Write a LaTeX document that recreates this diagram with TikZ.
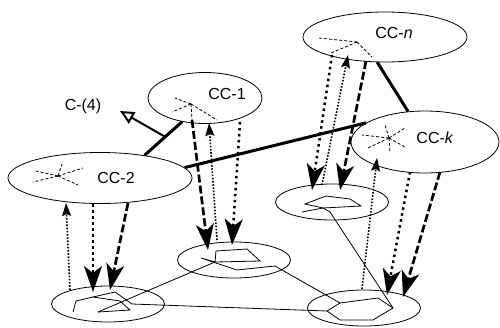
\documentclass[tikz,border=0pt]{standalone}
\usepackage{fontspec}
\setmainfont{Liberation Sans}
\usetikzlibrary{shapes.geometric,arrows.meta,calc}

\begin{document}
\begin{tikzpicture}[x=1pt, y=-1pt]

\tikzset{
  cc/.style={ellipse, draw, line width=0.8pt, inner sep=0pt},
  pc/.style={ellipse, draw, line width=0.8pt, inner sep=0pt, minimum width=113pt, minimum height=36pt},
  lbl/.style={font=\fontsize{16}{19}\selectfont, inner sep=0pt},
  link/.style={line width=3pt},
  ray/.style={line width=0.8pt, dash pattern=on 3pt off 2pt},
  poly/.style={line width=0.8pt},
  bigtip/.style={-{Stealth[length=26pt, width=18pt, inset=7pt]}},
  cdash/.style={bigtip, line width=2.7pt, dash pattern=on 8pt off 3pt},
  cdot/.style={bigtip, line width=2.5pt, dash pattern=on 2.5pt off 3.5pt},
  bdot/.style={-{Stealth[length=13pt, width=9pt, inset=2pt]}, line width=1.6pt, dash pattern=on 1.6pt off 1.6pt},
}

\useasboundingbox (0,0) rectangle (500,327);

% upper ellipses
\node[cc, minimum width=114pt, minimum height=51pt, name=cc1] at (205,98) {};
\node[cc, minimum width=184pt, minimum height=51pt, name=cc2] at (100,178) {};
\node[cc, minimum width=164pt, minimum height=50pt, name=ccn] at (385,37) {};
\node[cc, minimum width=148pt, minimum height=62pt, name=cck] at (425,142) {};
\node[lbl, name=lcc1] at (227,94) {CC-1};
\node[lbl, name=lcc2] at (116,178) {CC-2};
\node[lbl, name=lccn] at (394,33) {CC-\textit{n}};
\node[lbl, name=lcck] at (435,138) {CC-\textit{k}};

% lower ellipses
\node[pc, name=b2] at (108,304) {};
\node[pc, name=b1] at (234,260) {};
\node[pc, name=bn] at (332,202) {};
\node[pc, name=bk] at (364,308) {};

% links between clusters
\draw[link] (cc1.226) -- (cc2.27);
\draw[link] (cc2.7) -- (cck.162);
\draw[link] (ccn.253) -- (cck.119);

\node[lbl, name=c4] at (83,106) {C-(4)};
\coordinate (c4tip) at (120,111);
\draw[line width=2pt, -{Triangle[open, length=14pt, width=13pt]}] ($(cc1.226)!0.45!(cc2.27)$) -- (c4tip);

% stars
\coordinate (s1) at (191,104);
\coordinate (s2) at (58,176);
\coordinate (sn) at (357,42);
\coordinate (sk) at (389,138);
\foreach \p in {(175,98),(172,112),(217,120),(192,120)} \draw[ray] (s1) -- \p;
\foreach \p in {(36,171),(78,185),(33,182),(83,168),(62,164)} \draw[ray] (s2) -- \p;
\foreach \p in {(319,38),(331,53),(372,57)} \draw[ray] (sn) -- \p;
\foreach \p in {(362,135),(405,128),(385,125),(390,153),(405,147),(368,148)} \draw[ray] (sk) -- \p;

% polygon vertices shared by the thin links
\coordinate (b2a) at (98,312);
\coordinate (b2k) at (132,304);
\coordinate (b1w) at (215,262);
\coordinate (b1k) at (275,266);
\coordinate (bnk) at (330,212);
\coordinate (bkw) at (327,311);
\coordinate (bkn) at (340,303);
\coordinate (bke) at (393,308);

\draw[poly] (73,312) -- (76,301) -- (93,297) -- (115,292) -- (b2k);
\draw[poly] (b2a) -- (130,310) -- (120,301) -- (93,297);
\draw[poly] (b1w) -- (216,251) -- (247,249) -- (260,261) -- cycle;
\draw[poly] (b1w) -- (201,258) -- (237,270) -- (b1k);
\draw[poly] (305,204) -- (326,196) -- (350,199) -- (361,206) -- (323,208) -- cycle;
\draw[poly] (302,212) -- (323,208) -- (bnk);
\draw[poly] (bkw) -- (bkn) -- (378,298) -- (bke) -- (373,320) -- (340,320) -- cycle;

\draw[poly] (b2a) -- (b1w);
\draw[poly] (b2k) -- (bkw);
\draw[poly] (b1k) -- (bkn);
\draw[poly] (bnk) -- (bke);

% arrows of CC-2
\draw[bdot] (70,290) -- (66,203);
\draw[cdot] (93,204) -- (93,292);
\draw[cdash] (128,203) -- (110,290);

% arrows of CC-1
\draw[cdash] (192,120) -- (208,250);
\draw[bdot] (217,240) -- (209,123);
\draw[cdot] (240,122) -- (232,245);

% arrows of CC-n
\draw[cdot] (332,55) -- (312,190);
\draw[bdot] (322,185) -- (348,55);
\draw[cdash] (366,61) -- (340,190);

% arrows of CC-k
\draw[bdot] (362,289) -- (377,158);
\draw[cdot] (410,172) -- (387,295);
\draw[cdash] (440,172) -- (403,297);

\end{tikzpicture}
\end{document}
